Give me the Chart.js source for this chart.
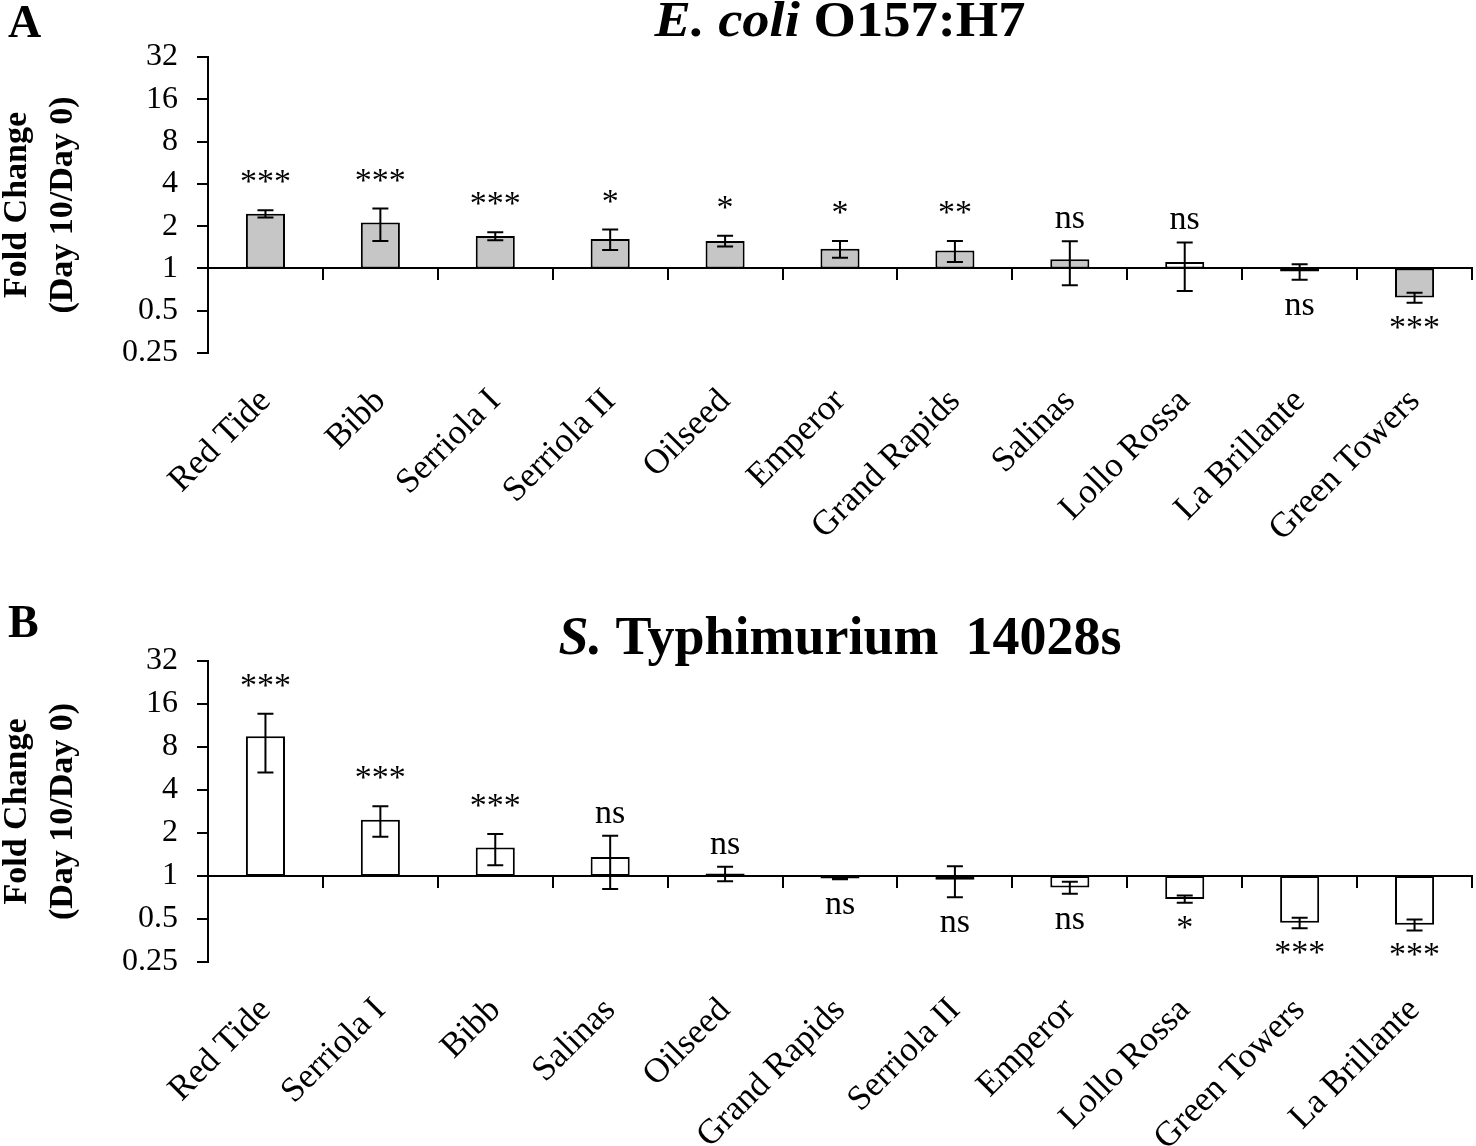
<!DOCTYPE html>
<html><head><meta charset="utf-8">
<script src="https://cdn.jsdelivr.net/npm/chart.js@4.4.1/dist/chart.umd.min.js"></script>
<style>
html,body{margin:0;padding:0;background:#fff;}
#wrap{position:relative;width:1476px;height:1146px;overflow:hidden;background:#fff;}
.pane{position:absolute;left:0;width:1476px;}
#pa{top:0;height:560px;}
#pb{top:580px;height:566px;}
</style></head><body>
<div id="wrap"><div class="pane" id="pa"><canvas id="ca"></canvas></div><div class="pane" id="pb"><canvas id="cb"></canvas></div></div>
<script>
// ---- Data ----
const categoriesA = ['Red Tide','Bibb','Serriola I','Serriola II','Oilseed','Emperor','Grand Rapids','Salinas','Lollo Rossa','La Brillante','Green Towers'];
const foldA = [2.45, 2.12, 1.70, 1.62, 1.57, 1.38, 1.34, 1.16, 1.11, 0.95, 0.62];
const errA  = [0.15, 0.55, 0.11, 0.27, 0.14, 0.19, 0.23, 0.40, 0.42, 0.12, 0.05];
const sigA  = ['***','***','***','*','*','*','**','ns','ns','ns','***'];

const categoriesB = ['Red Tide','Serriola I','Bibb','Salinas','Oilseed','Grand Rapids','Serriola II','Emperor','Lollo Rossa','Green Towers','La Brillante'];
const foldB = [9.5, 2.48, 1.58, 1.36, 1.04, 0.96, 0.94, 0.83, 0.69, 0.47, 0.455];
const errB  = [4.2, 0.60, 0.39, 0.55, 0.12, 0.01, 0.23, 0.08, 0.04, 0.04, 0.04];
const sigB  = ['***','***','***','ns','ns','ns','ns','ns','*','***','***'];

const yTickValues = [0.25, 0.5, 1, 2, 4, 8, 16, 32];
const yAxisTitle = ['Fold Change', '(Day 10/Day 0)'];
const titleA = [{text:'E. coli', italic:true}, {text:' O157:H7', italic:false}];
const titleB = [{text:'S.', italic:true}, {text:' Typhimurium  14028s', italic:false}];

const SERIF = '"Liberation Serif", "Times New Roman", serif';

const annotPlugin = {
  id: 'annot',
  afterDatasetsDraw(chart, args, o) {
    const ctx = chart.ctx, ys = chart.scales.y, meta = chart.getDatasetMeta(0);
    ctx.save();
    ctx.strokeStyle = '#000'; ctx.lineWidth = 2; ctx.fillStyle = '#000';
    meta.data.forEach((bar, i) => {
      const x = bar.x;
      const hi = ys.getPixelForValue(o.values[i] + o.errors[i]);
      const lo = ys.getPixelForValue(o.values[i] - o.errors[i]);
      ctx.beginPath();
      ctx.moveTo(x, hi); ctx.lineTo(x, lo);
      ctx.moveTo(x - 8, hi); ctx.lineTo(x + 8, hi);
      ctx.moveTo(x - 8, lo); ctx.lineTo(x + 8, lo);
      ctx.stroke();
      ctx.font = '34px ' + SERIF;
      ctx.textAlign = 'center';
      const star = o.sig[i].indexOf('*') >= 0;
      if (o.values[i] >= 1) { ctx.textBaseline = 'alphabetic'; ctx.fillText(o.sig[i], x, hi - (star ? 18 : 13)); }
      else { ctx.textBaseline = 'top'; ctx.fillText(o.sig[i], x, lo + 9); }
    });
    // panel letter
    ctx.textAlign = 'left'; ctx.textBaseline = 'alphabetic';
    ctx.font = 'bold 46px ' + SERIF;
    ctx.fillText(o.letter, 8, o.letterY);
    // mixed-style title centered on plot area
    const cx = (chart.chartArea.left + chart.chartArea.right) / 2;
    const fonts = o.title.map(p => (p.italic ? 'italic ' : '') + 'bold ' + o.titleSize + 'px ' + SERIF);
    let total = 0;
    const widths = o.title.map((p, k) => { ctx.font = fonts[k]; const w = ctx.measureText(p.text).width; total += w; return w; });
    ctx.translate(cx, o.titleY);
    ctx.scale(o.titleStretch, 1);
    let x0 = -total / 2;
    o.title.forEach((p, k) => { ctx.font = fonts[k]; ctx.fillText(p.text, x0, 0); x0 += widths[k]; });
    ctx.restore();
  }
};

function makeChart(id, cats, vals, errs, sig, fills, letter, letterY, title, titleY, titleSize, titleStretch, padTop, xHeight) {
  return new Chart(document.getElementById(id), {
    type: 'bar',
    data: {
      labels: cats,
      datasets: [{
        data: vals.map(v => [1, v]),
        backgroundColor: fills,
        borderColor: '#000',
        borderWidth: 2,
        borderSkipped: false,
        categoryPercentage: 1,
        barPercentage: 0.34
      }]
    },
    options: {
      responsive: true, maintainAspectRatio: false, animation: false, devicePixelRatio: 1,
      layout: { padding: { top: padTop, left: 0, right: 4, bottom: 0 } },
      plugins: {
        legend: { display: false }, tooltip: { enabled: false }, title: { display: false },
        annot: { values: vals, errors: errs, sig: sig, letter: letter, letterY: letterY, title: title, titleY: titleY, titleSize: titleSize, titleStretch: titleStretch }
      },
      scales: {
        x: {
          type: 'category',
          grid: { display: false },
          border: { display: false },
          ticks: { color: '#000', font: { family: SERIF, size: 35 }, maxRotation: 45, minRotation: 45, padding: 20, autoSkip: false },
          afterFit: s => { s.height = xHeight; }
        },
        x2: {
          type: 'category', axis: 'x',
          position: { y: 1 },
          grid: { display: true, drawOnChartArea: false, drawTicks: true, tickLength: 11, offset: true, color: '#000', lineWidth: 2 },
          border: { display: true, color: '#000', width: 2 },
          ticks: { display: false },
          afterFit: s => { s.height = 0; }
        },
        y: {
          type: 'logarithmic',
          min: 0.25, max: 32,
          afterBuildTicks: s => { s.ticks = yTickValues.map(v => ({ value: v })); },
          grid: { display: true, drawOnChartArea: false, drawTicks: true, tickLength: 11, color: '#000', lineWidth: 2 },
          border: { display: true, color: '#000', width: 2 },
          ticks: { color: '#000', font: { family: SERIF, size: 32 }, padding: 19, callback: v => String(v) },
          title: { display: true, text: yAxisTitle, color: '#000', font: { family: SERIF, size: 34, weight: 'bold', lineHeight: 1.35 }, padding: { top: -6, bottom: 0 } },
          afterFit: s => { s.width = 208; }
        }
      }
    },
    plugins: [annotPlugin]
  });
}

const GRAY = '#c6c6c6', WHITE = '#ffffff';
const fillsA = categoriesA.map(c => (c === 'Lollo Rossa' || c === 'La Brillante') ? WHITE : GRAY);
const fillsB = categoriesB.map(() => WHITE);

makeChart('ca', categoriesA, foldA, errA, sigA, fillsA, 'A', 37, titleA, 36, 50, 1.09, 57, 207);
makeChart('cb', categoriesB, foldB, errB, sigB, fillsB, 'B', 57, titleB, 74, 54, 1.0, 81, 184);
</script>
</body></html>
